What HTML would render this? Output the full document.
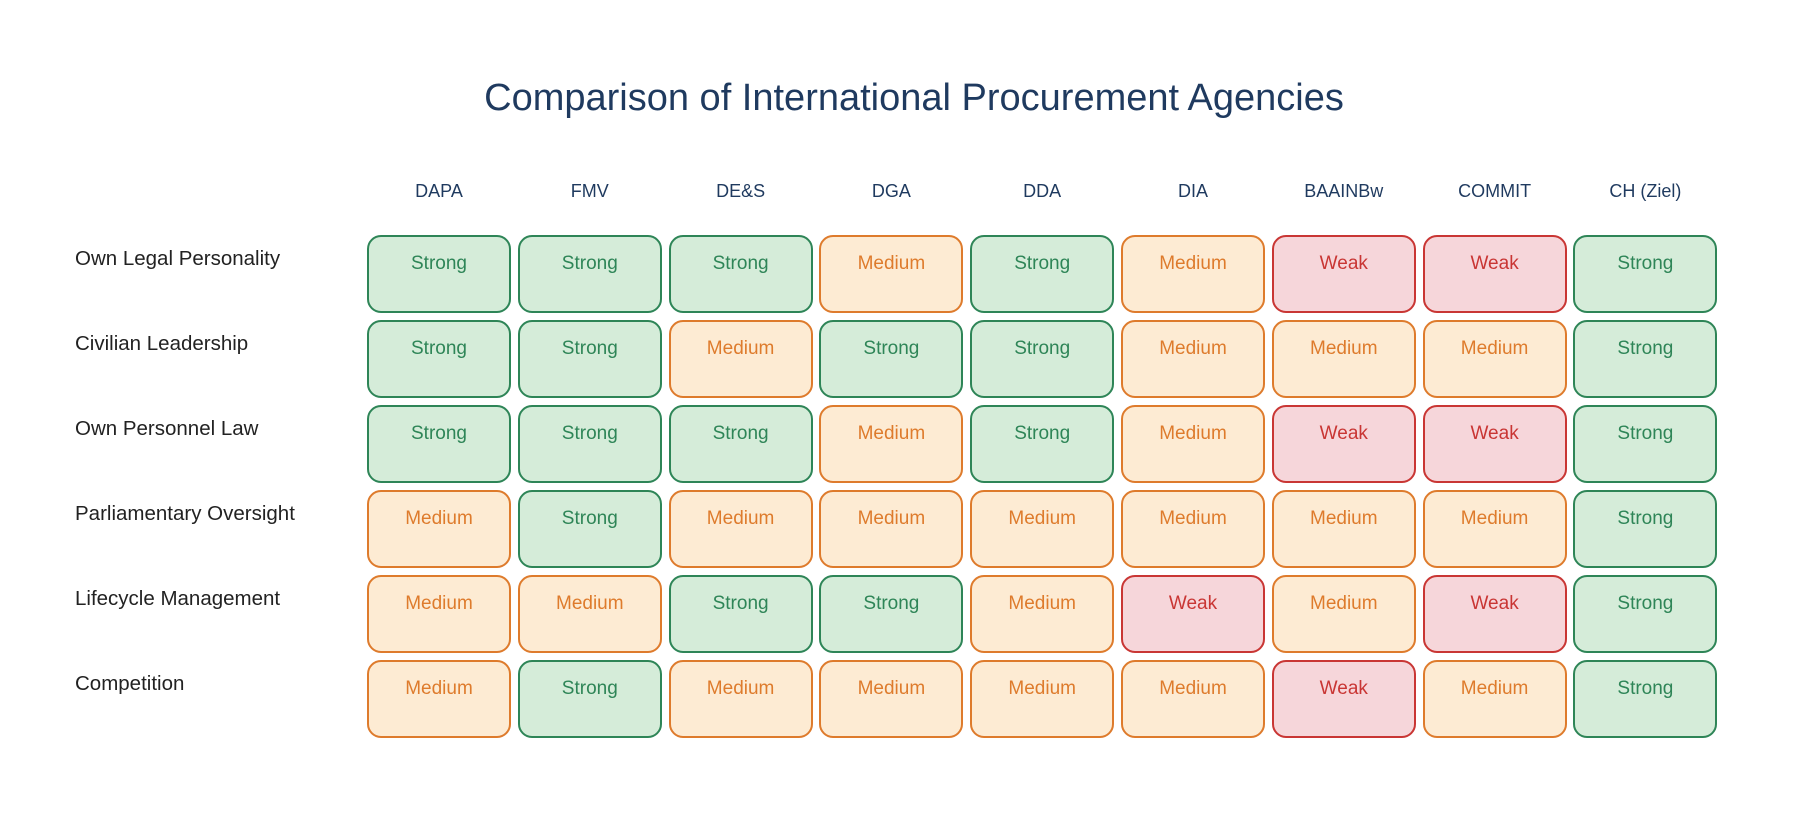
<!DOCTYPE html>
<html><head><meta charset="utf-8"><style>
body{margin:0;width:1800px;height:813px;background:#fff;font-family:"Liberation Sans",sans-serif;position:relative;overflow:hidden}
.t{position:absolute;left:0;width:1828px;text-align:center;top:77px;font-size:38px;color:#1f3a5f}
.h{position:absolute;top:181px;width:144px;text-align:center;font-size:18px;color:#1f3a5f}
.r{position:absolute;left:75px;font-size:20.5px;color:#222}
.b{position:absolute;width:140px;height:74px;border:2px solid;border-radius:14px;text-align:center;font-size:19px;line-height:19px;box-sizing:content-box}
.b span{position:absolute;left:0;right:0;top:17px}
.S{background:#d5ecd9;border-color:#2e8557;color:#2e8557}
.M{background:#fdebd3;border-color:#de7b2c;color:#de7b2c}
.W{background:#f6d6da;border-color:#c93634;color:#c93634}
</style></head><body>
<div class="t">Comparison of International Procurement Agencies</div>
<div id="g"></div>
<script>
var cols=["DAPA","FMV","DE&S","DGA","DDA","DIA","BAAINBw","COMMIT","CH (Ziel)"];
var rows=["Own Legal Personality","Civilian Leadership","Own Personnel Law","Parliamentary Oversight","Lifecycle Management","Competition"];
var d=["SSSMSMWWS","SSMSSMMMS","SSSMSMWWS","MSMMMMMMS","MMSSMWMWS","MSMMMMWMS"];
var n={S:"Strong",M:"Medium",W:"Weak"};
var h="";
cols.forEach(function(c,i){h+='<div class="h" style="left:'+(367+i*150.8)+'px">'+c.replace("&","&amp;")+'</div>';});
rows.forEach(function(r,j){
 h+='<div class="r" style="top:'+(247+j*85)+'px">'+r+'</div>';
 for(var i=0;i<9;i++){var k=d[j][i];
  h+='<div class="b '+k+'" style="left:'+(367+i*150.8)+'px;top:'+(235+j*85)+'px"><span>'+n[k]+'</span></div>';}
});
document.getElementById("g").innerHTML=h;
</script>
</body></html>
